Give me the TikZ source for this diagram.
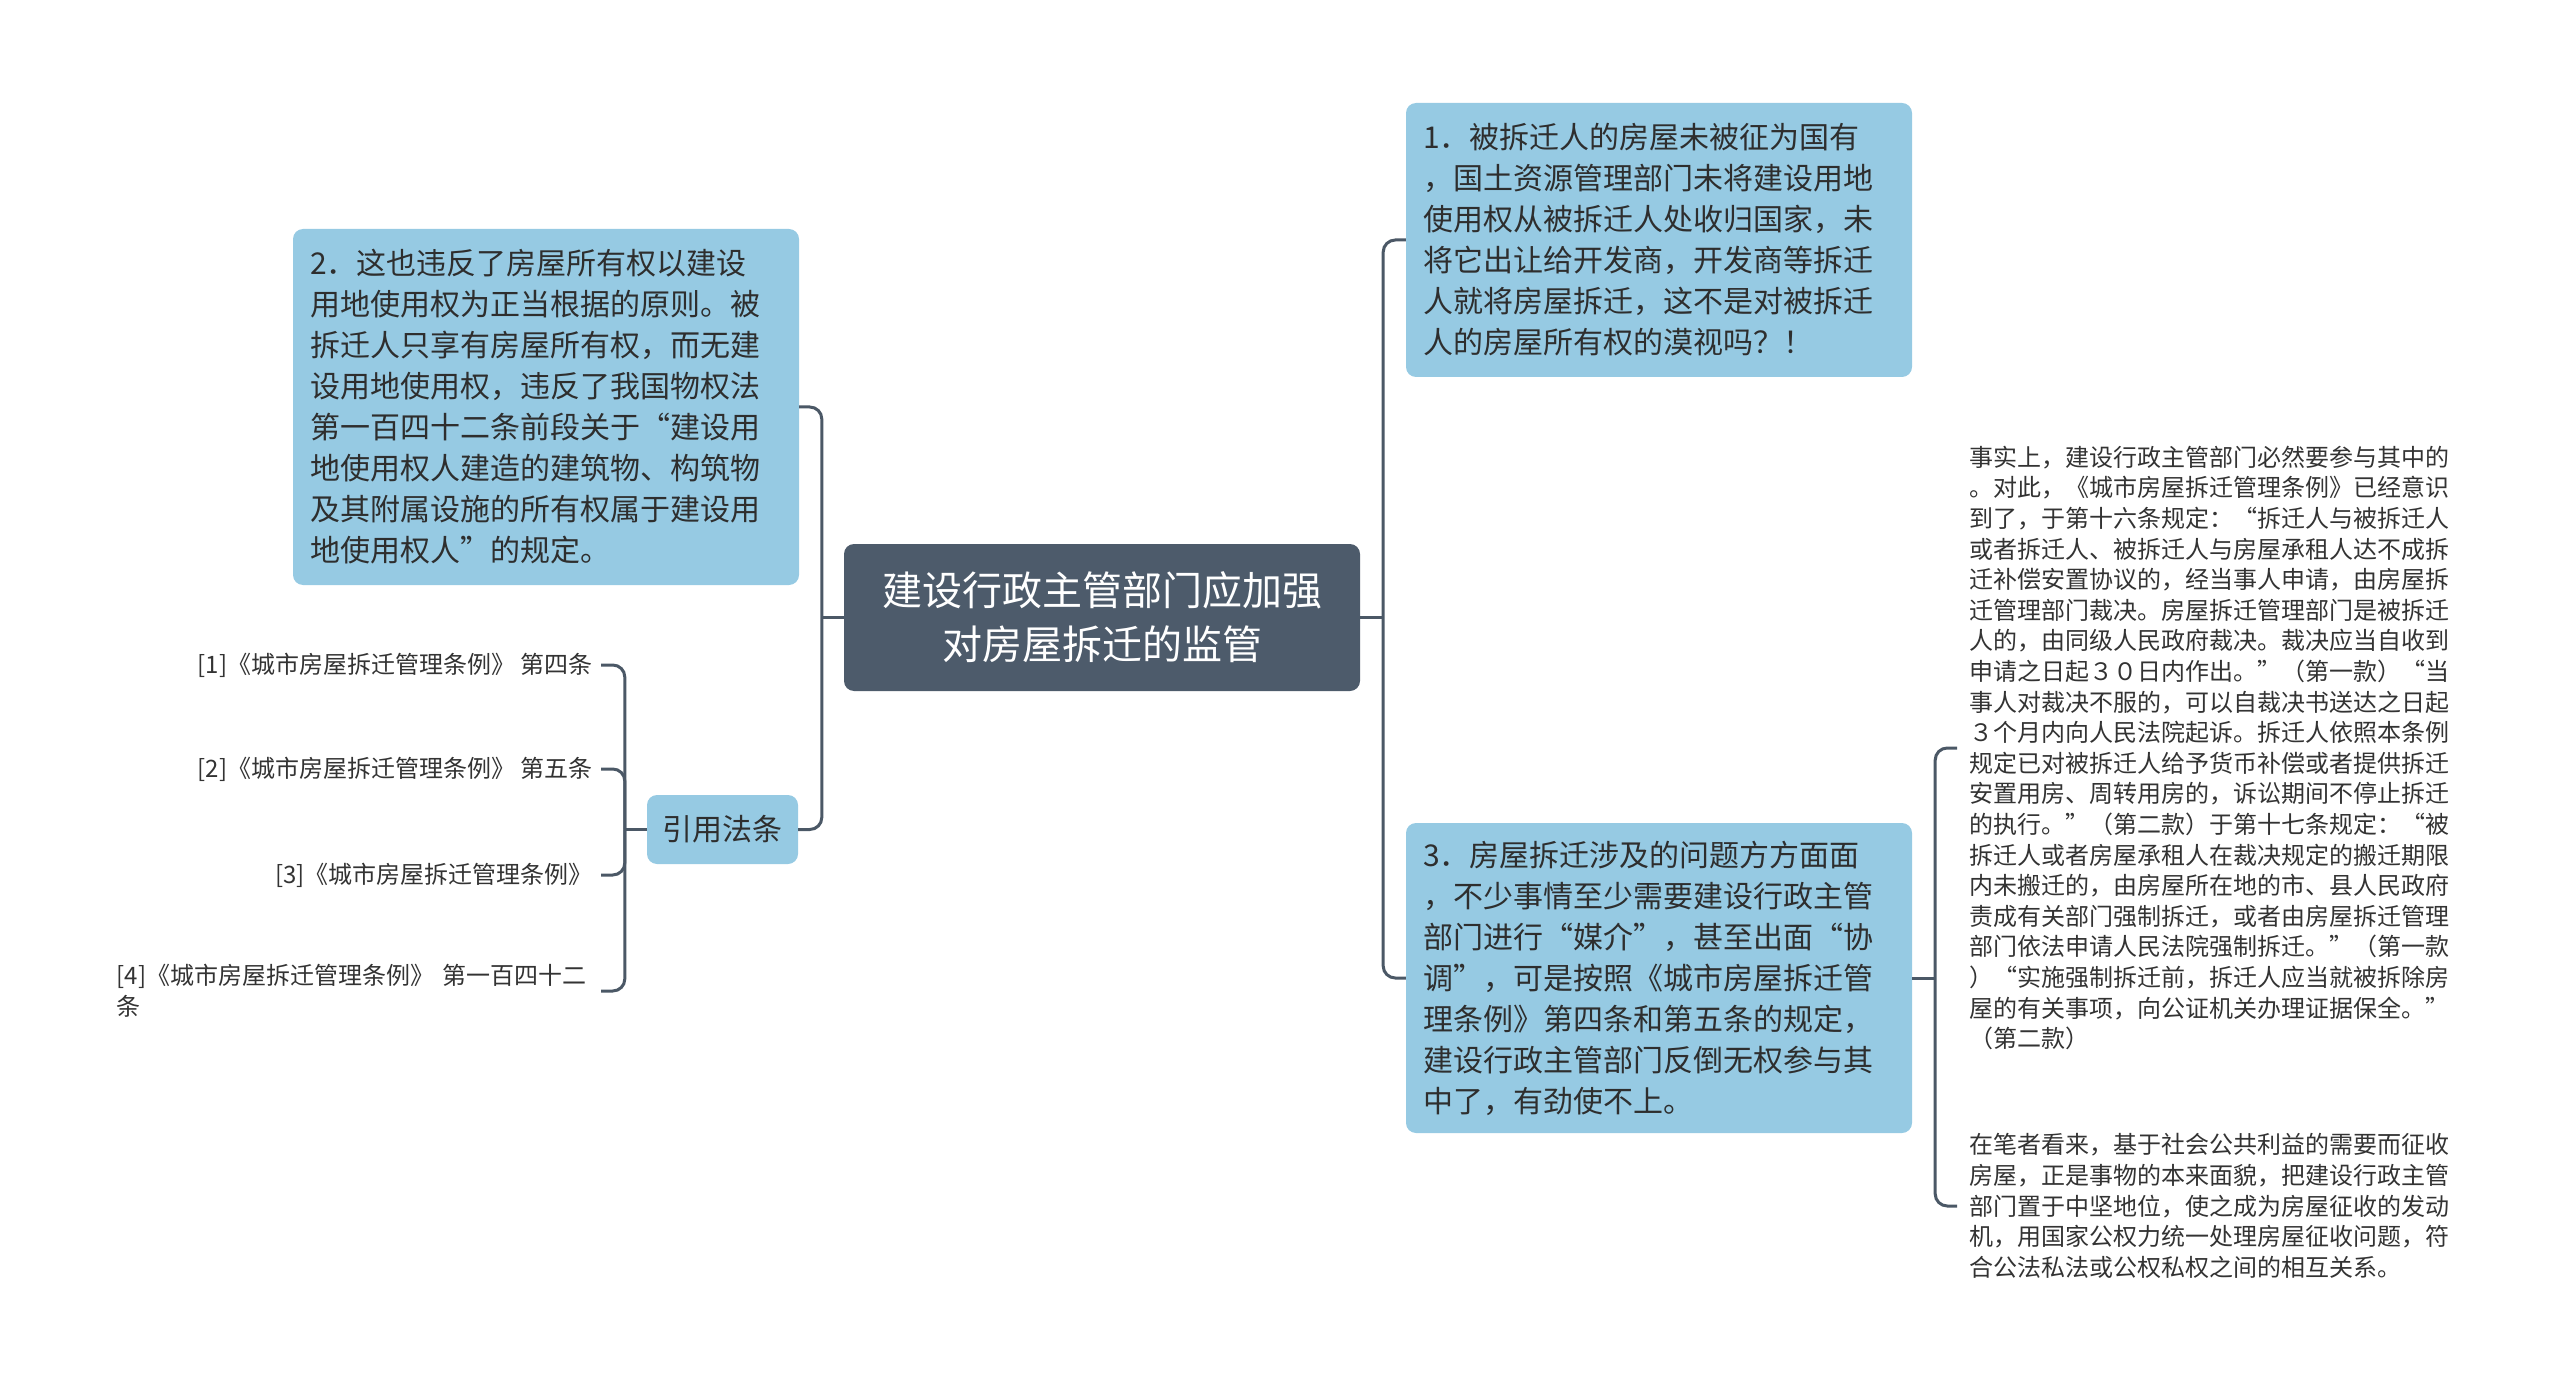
\documentclass[tikz,border=0pt]{standalone}
\usepackage{fontspec}
\setmainfont{Noto Sans CJK SC}
\definecolor{hubfill}{HTML}{4D5B6B}
\definecolor{topicfill}{HTML}{96CAE3}
\definecolor{lineclr}{HTML}{4B5866}
\definecolor{txtdark}{HTML}{2E2E2E}
\definecolor{txtleaf}{HTML}{333333}
\begin{document}
\begin{tikzpicture}[x=1pt,y=-1pt,
  conn/.style={draw=lineclr,line width=3pt,rounded corners=12pt},
  hubbox/.style={fill=hubfill,rounded corners=10pt,text=white,align=center,
    font=\fontsize{40}{54}\selectfont,minimum width=516pt,minimum height=147pt,inner sep=0pt},
  topic/.style={fill=topicfill,rounded corners=10pt,text=txtdark,align=left,
    font=\fontsize{30}{41}\selectfont,inner xsep=17pt,inner ysep=0pt,text width=472pt},
  tag/.style={fill=topicfill,rounded corners=10pt,text=txtdark,
    font=\fontsize{30}{41}\selectfont,minimum width=151pt,minimum height=69pt,inner sep=0pt},
  leaf/.style={text=txtleaf,align=left,font=\fontsize{24}{30.6}\selectfont,inner xsep=12pt,inner ysep=2pt},
  ref/.style={text=txtleaf,font=\fontsize{24}{31}\selectfont,inner xsep=8pt,inner ysep=2pt}
]
\useasboundingbox (0,0) rectangle (2560,1396);

\node[hubbox] (hub) at (1102,617.5) {建设行政主管部门应加强\\对房屋拆迁的监管};

\node[topic,minimum height=356pt] (n2) at (546,407) {2．这也违反了房屋所有权以建设\\用地使用权为正当根据的原则。被\\拆迁人只享有房屋所有权，而无建\\设用地使用权，违反了我国物权法\\第一百四十二条前段关于“建设用\\地使用权人建造的建筑物、构筑物\\及其附属设施的所有权属于建设用\\地使用权人”的规定。};

\node[tag] (yy) at (722.5,829.5) {引用法条};

\node[topic,minimum height=274pt] (n1) at (1659,240) {1．被拆迁人的房屋未被征为国有\\，国土资源管理部门未将建设用地\\使用权从被拆迁人处收归国家，未\\将它出让给开发商，开发商等拆迁\\人就将房屋拆迁，这不是对被拆迁\\人的房屋所有权的漠视吗？！};

\node[topic,minimum height=310pt] (n3) at (1659,978) {3．房屋拆迁涉及的问题方方面面\\，不少事情至少需要建设行政主管\\部门进行“媒介”，甚至出面“协\\调”，可是按照《城市房屋拆迁管\\理条例》第四条和第五条的规定，\\建设行政主管部门反倒无权参与其\\中了，有劲使不上。};

\node[ref,anchor=east] (r1) at (601,665) {[1]《城市房屋拆迁管理条例》 第四条};
\node[ref,anchor=east] (r2) at (601,769) {[2]《城市房屋拆迁管理条例》 第五条};
\node[ref,anchor=east] (r3) at (601,875) {[3]《城市房屋拆迁管理条例》};
\node[ref,anchor=east,align=left,text width=476pt] (r4) at (601,991) {[4]《城市房屋拆迁管理条例》 第一百四十二\\条};

\node[leaf,anchor=west] (la) at (1957,748) {事实上，建设行政主管部门必然要参与其中的\\。对此，《城市房屋拆迁管理条例》已经意识\\到了，于第十六条规定：“拆迁人与被拆迁人\\或者拆迁人、被拆迁人与房屋承租人达不成拆\\迁补偿安置协议的，经当事人申请，由房屋拆\\迁管理部门裁决。房屋拆迁管理部门是被拆迁\\人的，由同级人民政府裁决。裁决应当自收到\\申请之日起３０日内作出。”（第一款）“当\\事人对裁决不服的，可以自裁决书送达之日起\\３个月内向人民法院起诉。拆迁人依照本条例\\规定已对被拆迁人给予货币补偿或者提供拆迁\\安置用房、周转用房的，诉讼期间不停止拆迁\\的执行。”（第二款）于第十七条规定：“被\\拆迁人或者房屋承租人在裁决规定的搬迁期限\\内未搬迁的，由房屋所在地的市、县人民政府\\责成有关部门强制拆迁，或者由房屋拆迁管理\\部门依法申请人民法院强制拆迁。”（第一款\\）“实施强制拆迁前，拆迁人应当就被拆除房\\屋的有关事项，向公证机关办理证据保全。”\\（第二款）};

\node[leaf,anchor=west] (lb) at (1957,1206) {在笔者看来，基于社会公共利益的需要而征收\\房屋，正是事物的本来面貌，把建设行政主管\\部门置于中坚地位，使之成为房屋征收的发动\\机，用国家公权力统一处理房屋征收问题，符\\合公法私法或公权私权之间的相互关系。};

% junctions
\coordinate (lj) at ([xshift=-22pt]hub.west);
\coordinate (rj) at ([xshift=23pt]hub.east);
\coordinate (bj) at ([xshift=-22pt]yy.west);
\coordinate (cj) at ([xshift=23pt]n3.east);

\draw[conn] (hub.west) -- (lj);
\draw[conn] (n2.east) -| (lj) |- (yy.east);
\draw[conn] (hub.east) -- (rj);
\draw[conn] (n1.west) -| (rj) |- (n3.west);

\draw[conn] (yy.west) -- (bj);
\draw[conn] (r1.east) -| (bj) |- (r4.east);
\draw[conn] (r2.east) -| (bj);
\draw[conn] (r3.east) -| (bj);

\draw[conn] (n3.east) -- (cj);
\draw[conn] (la.west) -| (cj) |- (lb.west);
\end{tikzpicture}
\end{document}
